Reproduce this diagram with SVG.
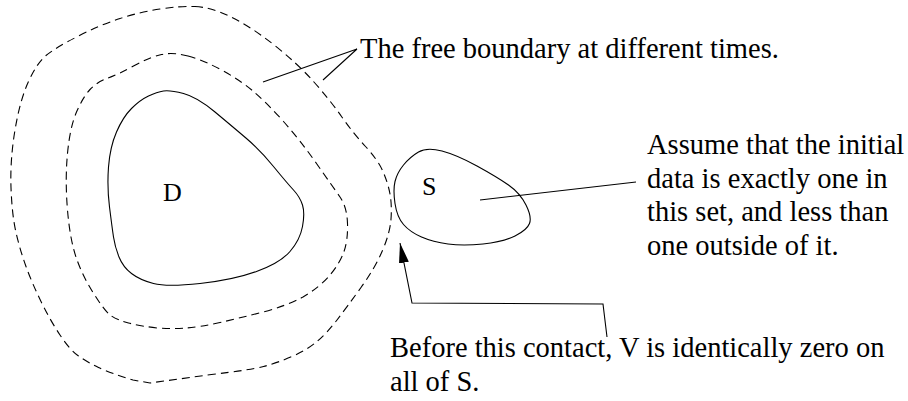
<svg xmlns="http://www.w3.org/2000/svg" width="908" height="401" viewBox="0 0 908 401">
<style>
.bg{fill:#fff}
.dash{fill:none;stroke:#000;stroke-width:1.1;stroke-dasharray:8,5}
.solid{fill:none;stroke:#000;stroke-width:1.1}
.lead{fill:none;stroke:#000;stroke-width:1.1}
.t{font-family:"Liberation Serif","Times New Roman",serif;font-size:28.5px;fill:#000}
.lbl{font-family:"Liberation Serif","Times New Roman",serif;font-size:26px;fill:#000}
</style>
<defs>
<marker id="ah" markerUnits="userSpaceOnUse" markerWidth="20" markerHeight="10" refX="20" refY="5" orient="auto">
<path d="M0,0 L20,5 L0,10 z" fill="#000"/>
</marker>
</defs>
<rect class="bg" width="908" height="401"/>
<g id="boundary-outer">
<path class="dash" d="M195,6.5 Q210,7 230,16.5 Q250,26 273.5,44.5 Q297,63 313.5,81.5 Q330,100 341.5,116.5 Q353,133 365.5,146.5 Q378,160 383,171.5 Q388,183 390,194 Q392,205 391,219 Q390,233 382.5,250.5 Q375,268 361,287.5 Q347,307 337,320 Q327,333 317,341.5 Q307,350 292,356.5 Q277,363 263.5,366.5 Q250,370 211.5,374.5 L150,383 L133,380 Q110,373 98.5,367.5 Q87,362 78.5,356 Q70,350 60,335 Q50,320 41,301.5 Q32,283 26,266.5 Q20,250 16,232.5 Q12,215 11,187.5 Q10,160 15,130 Q20,100 28.5,81.5 Q37,63 46,55.5 Q55,48 77.5,36.5 Q100,25 120,18.5 Q140,12 160,9 Q180,6 195,6.5 Z"/>
</g>
<g id="boundary-middle">
<path class="dash" d="M188,56 Q203,60 221.5,70 Q240,80 253.5,91.5 Q267,103 283.5,121.5 Q300,140 316.5,163.5 Q333,187 340,197 Q347,207 347.5,223.5 Q348,240 344,251.5 Q340,263 330,275 Q320,287 303,297 Q286,306 263,312 Q240,318 220,322.5 Q200,327 186.5,328 Q173,329 157,328 Q140,326 128.5,323 Q117,320 110,315 Q104,310 94,294 Q83,277 76.5,258.5 Q70,240 67.5,210 Q65,180 67.5,153.5 Q70,127 76.5,112 Q83,97 90,89.5 Q97,82 107,78.5 Q117,75 133.5,66 Q150,57 161.5,54.5 Q173,52 188,56 Z"/>
</g>
<g id="D">
<path class="solid" d="M183.5,93.5 Q197,97 215,112 Q233,127 246.5,138.5 Q260,150 273.5,166.5 Q287,183 293.5,190 Q300,197 302.5,205 Q305,213 302.5,226.5 Q300,240 290,251.5 Q280,263 256.5,271.5 Q233,280 200,283.5 Q167,287 153.5,283.5 Q140,280 131.5,273.5 Q123,267 119,257 Q115,247 113.5,237 Q112,227 109.5,207 Q107,187 108.5,167 Q110,147 116.5,132 Q123,117 131.5,108.5 Q140,100 148.5,96 Q157,92 163.5,91 Q170,90 183.5,93.5 Z"/>
<text class="lbl" x="163" y="201">D</text>
</g>
<g id="S">
<path class="solid" d="M442,151 Q457,155 477,166 Q497,177 508.5,185 Q520,193 526,205 Q532,217 529.5,223.5 Q527,230 515,236 Q503,242 483,244 Q463,246 448,244 Q433,242 421.5,237 Q410,232 403.5,224.5 Q397,217 395,203.5 Q393,190 395,181.5 Q397,173 403.5,165 Q410,157 418.5,152 Q427,147 442,151 Z"/>
<text class="lbl" x="422" y="195">S</text>
</g>
<g id="label-boundary">
<text class="t" x="360" y="58">The free boundary at different times.</text>
</g>
<g id="label-initial">
<text class="t" x="647" y="154">Assume that the initial</text>
<text class="t" x="647" y="188">data is exactly one in</text>
<text class="t" x="647" y="221">this set, and less than</text>
<text class="t" x="647" y="255">one outside of it.</text>
</g>
<g id="label-contact">
<text class="t" x="390" y="357">Before this contact, V is identically zero on</text>
<text class="t" x="390" y="391">all of S.</text>
</g>
<g id="connectors">
<path class="lead" d="M357,49 L263,82 M357,49 L323,80"/>
<path class="lead" d="M480,200 L636,182"/>
<path class="lead" d="M607,337 L603,304 L412,303 L400,243" marker-end="url(#ah)"/>
</g>
</svg>
